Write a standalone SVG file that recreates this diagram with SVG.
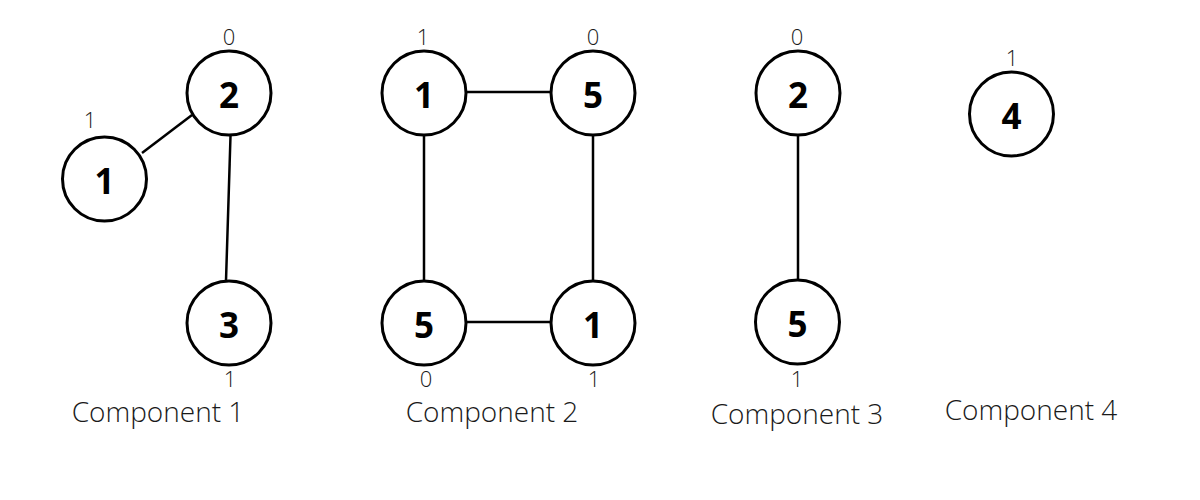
<svg xmlns="http://www.w3.org/2000/svg" width="1200" height="500" viewBox="0 0 1200 500">
<style>
.n circle{fill:#fff;stroke:#000;stroke-width:3}
.n text{font-family:"Open Sans","Liberation Sans",sans-serif;font-weight:700;font-size:35px;text-anchor:middle;fill:#000}
.e line{stroke:#000;stroke-width:2.5}
.lbl{font-family:"Open Sans","Liberation Sans",sans-serif;font-weight:300;font-size:22px;text-anchor:middle;fill:#1a1a1a}
.cap{font-family:"Open Sans","Liberation Sans",sans-serif;font-weight:300;font-size:28px;text-anchor:middle;fill:#1a1a1a}
</style>
<rect width="1200" height="500" fill="#fff"/>
<g id="edges" class="e">
<line x1="192" y1="115" x2="142" y2="153"/>
<line x1="230.5" y1="136" x2="226" y2="281"/>
<line x1="466" y1="92" x2="551" y2="92"/>
<line x1="466" y1="322" x2="551" y2="322"/>
<line x1="424" y1="136" x2="424" y2="281"/>
<line x1="593" y1="136" x2="593" y2="281"/>
<line x1="798" y1="136" x2="798" y2="280"/>
</g>
<g id="c1-n2" class="n"><circle cx="229" cy="93" r="42"/><text x="229" y="108">2</text></g>
<g id="c1-n1" class="n"><circle cx="104.5" cy="179" r="42"/><text x="104.5" y="194">1</text></g>
<g id="c1-n3" class="n"><circle cx="229" cy="323" r="42"/><text x="229" y="338">3</text></g>
<g id="c2-n1a" class="n"><circle cx="424" cy="93" r="42"/><text x="424" y="108">1</text></g>
<g id="c2-n5a" class="n"><circle cx="593" cy="93" r="42"/><text x="593" y="108">5</text></g>
<g id="c2-n5b" class="n"><circle cx="424" cy="323" r="42"/><text x="424" y="338">5</text></g>
<g id="c2-n1b" class="n"><circle cx="593" cy="323" r="42"/><text x="593" y="338">1</text></g>
<g id="c3-n2" class="n"><circle cx="798" cy="93" r="42"/><text x="798" y="108">2</text></g>
<g id="c3-n5" class="n"><circle cx="797.5" cy="322" r="42"/><text x="797.5" y="337">5</text></g>
<g id="c4-n4" class="n"><circle cx="1011.5" cy="114" r="42"/><text x="1011.5" y="129">4</text></g>
<g id="labels">
<text class="lbl" x="229" y="45">0</text>
<text class="lbl" x="90" y="128">1</text>
<text class="lbl" x="230" y="387">1</text>
<text class="lbl" x="423" y="45">1</text>
<text class="lbl" x="593" y="45">0</text>
<text class="lbl" x="426" y="387">0</text>
<text class="lbl" x="594" y="387">1</text>
<text class="lbl" x="797" y="45">0</text>
<text class="lbl" x="797" y="387">1</text>
<text class="lbl" x="1012" y="66">1</text>
<text class="cap" x="158" y="422">Component 1</text>
<text class="cap" x="492" y="422">Component 2</text>
<text class="cap" x="797" y="424">Component 3</text>
<text class="cap" x="1031" y="420">Component 4</text>
</g>
</svg>
